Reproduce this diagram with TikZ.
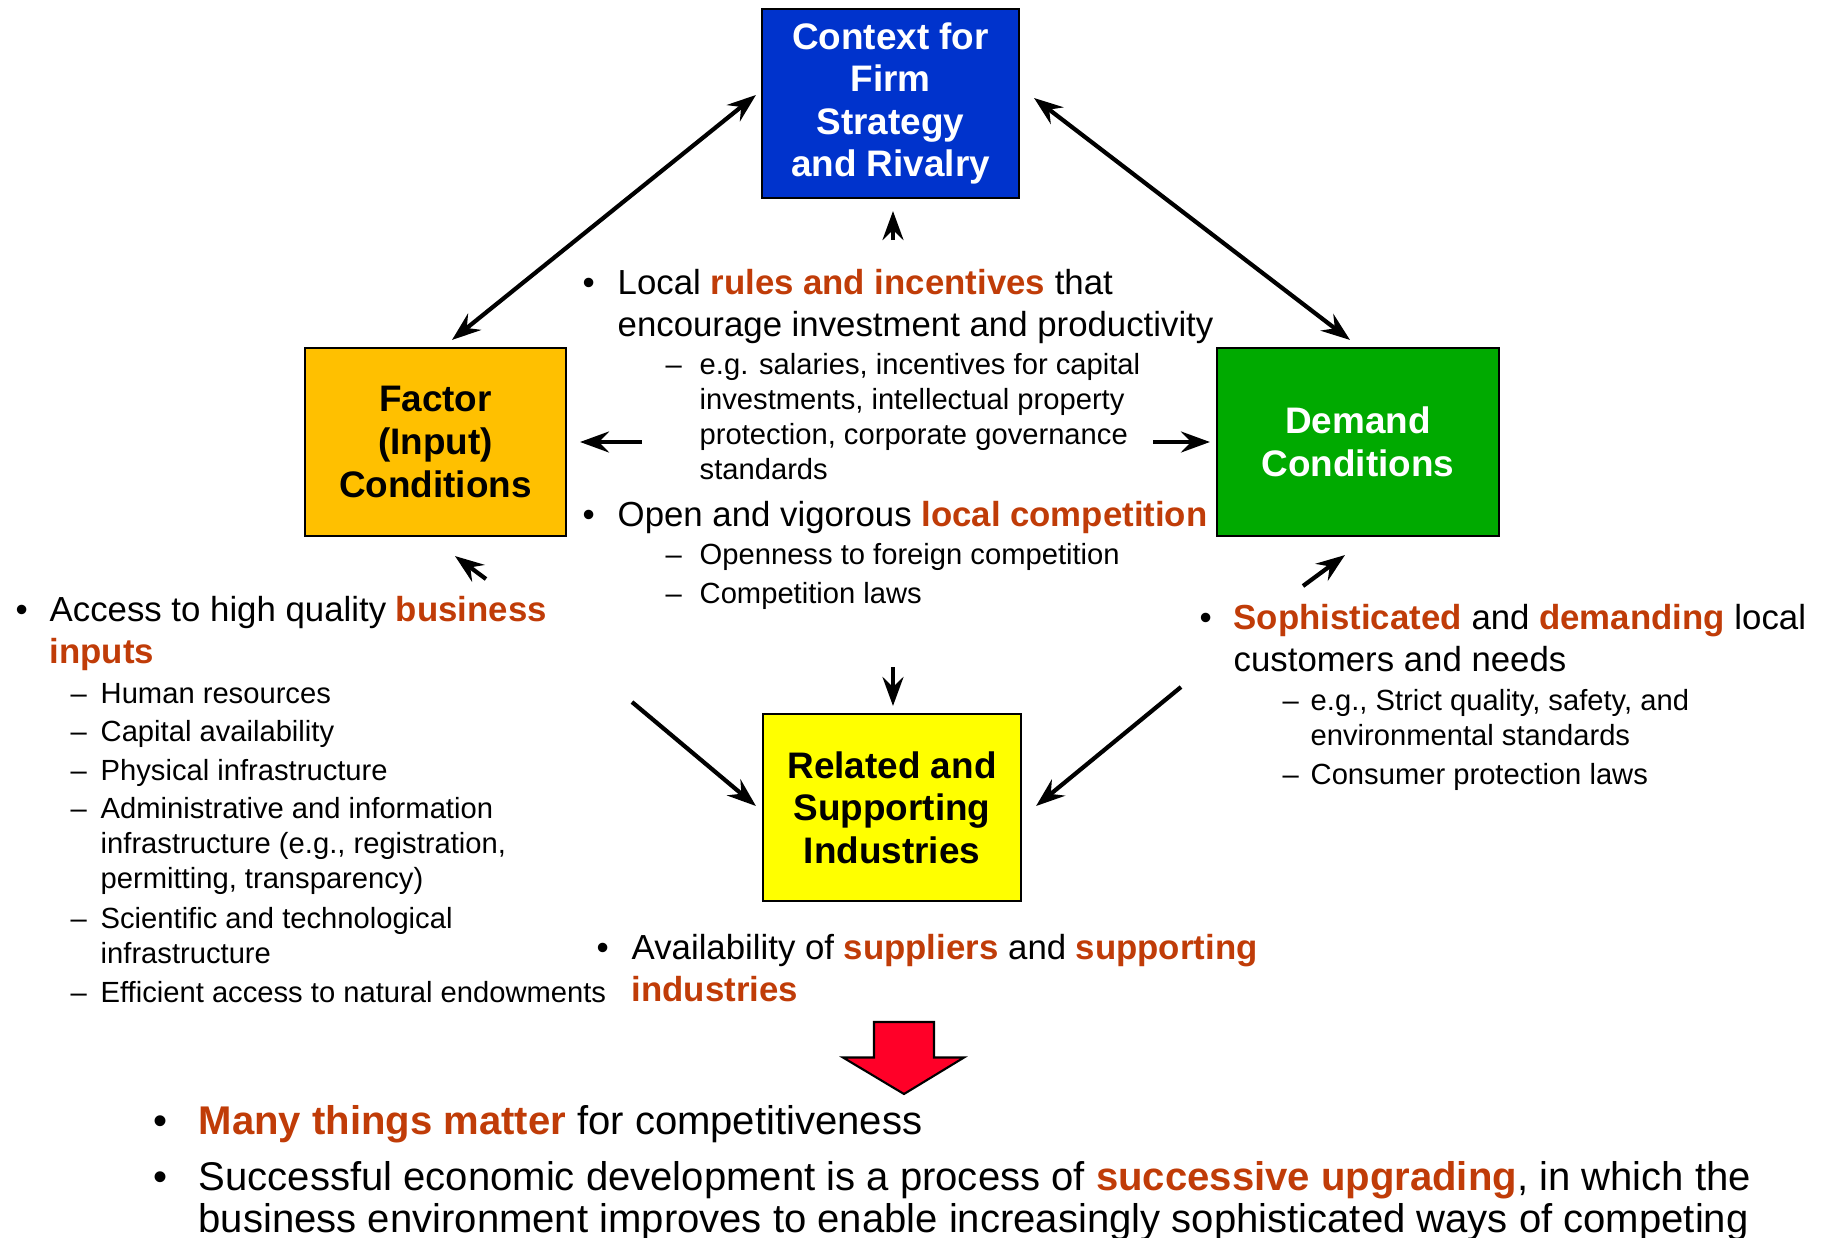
\documentclass[tikz,border=0pt]{standalone}
\usepackage{fontspec}
\setmainfont{Liberation Sans}
\usepackage{xcolor}
\usetikzlibrary{arrows.meta,positioning}

\definecolor{ctxblue}{RGB}{0,51,204}
\definecolor{facorange}{RGB}{255,192,0}
\definecolor{demgreen}{RGB}{0,170,0}
\definecolor{relyellow}{RGB}{255,255,0}
\definecolor{keyred}{RGB}{192,60,8}
\definecolor{bigred}{RGB}{255,0,40}

\newcommand{\hl}[1]{\textcolor{keyred}{\textbf{#1}}}

\begin{document}
\begin{tikzpicture}[
    >={Stealth[length=0.29cm,width=0.21cm,inset=0.1cm]},
    box/.style={rectangle,draw=black,line width=0.6pt,inner sep=0pt,align=center,
      font=\bfseries\fontsize{10.5}{12.1}\selectfont},
    arr/.style={->,line width=1.2pt},
    dbl/.style={<->,line width=1.2pt},
    main/.style={anchor=base west,inner sep=0pt,align=left,font=\fontsize{9.9}{11.95}\selectfont},
    sub/.style={anchor=base west,inner sep=0pt,align=left,font=\fontsize{8.3}{9.95}\selectfont},
    big/.style={anchor=base west,inner sep=0pt,align=left,font=\fontsize{11.4}{11.95}\selectfont}
  ]
    \useasboundingbox (0,0) rectangle (18.26,-12.38);

    % The four boxes
    \node[box,fill=ctxblue,text=white,minimum width=2.57cm,minimum height=1.89cm] (ctx) at (8.905,-1.035) {Context for\\Firm\\Strategy\\and Rivalry};
    \node[box,fill=facorange,minimum width=2.61cm,minimum height=1.88cm] (fac) at (4.355,-4.42) {Factor\\(Input)\\Conditions};
    \node[box,fill=demgreen,text=white,minimum width=2.82cm,minimum height=1.88cm] (dem) at (13.58,-4.42) {Demand\\Conditions};
    \node[box,fill=relyellow,minimum width=2.58cm,minimum height=1.87cm] (rel) at (8.92,-8.075) {Related and\\Supporting\\Industries};

    % Double arrows to the context box
    \draw[dbl] ([xshift=-0.05cm,yshift=0.085cm]ctx.west) -- ([xshift=0.165cm,yshift=0.07cm]fac.north);
    \draw[dbl] ([xshift=0.14cm,yshift=0.055cm]ctx.east) -- ([xshift=-0.08cm,yshift=0.07cm]dem.north);

    % Short arrows
    \coordinate (upT) at (8.93,-2.40);
    \coordinate (lfT) at (6.42,-4.42);
    \coordinate (rtT) at (11.53,-4.42);
    \coordinate (fbT) at (4.86,-5.79);
    \coordinate (dbT) at (13.03,-5.86);
    \coordinate (rnT) at (8.93,-6.67);
    \coordinate (rwT) at (6.32,-7.02);
    \coordinate (reT) at (11.81,-6.87);
    \draw[arr] (upT) -- ([xshift=0.025cm,yshift=-0.12cm]ctx.south);
    \draw[arr] (lfT) -- ([xshift=0.13cm]fac.east);
    \draw[arr] (rtT) -- ([xshift=-0.06cm]dem.west);
    \draw[arr] (fbT) -- ([xshift=0.195cm,yshift=-0.19cm]fac.south);
    \draw[arr] (dbT) -- ([xshift=-0.13cm,yshift=-0.18cm]dem.south);
    \draw[arr] (rnT) -- ([xshift=0.01cm,yshift=0.07cm]rel.north);
    \draw[arr] (rwT) -- ([xshift=-0.06cm,yshift=0.015cm]rel.west);
    \draw[arr] (reT) -- ([xshift=0.14cm,yshift=0.015cm]rel.east);

    % Rivalry text (multi-line nodes sit on their last line)
    \node[main] (cb1) at (5.82,-2.94) {\textbullet};
    \node[main] (ct1) at (6.17,-3.36) {Local \hl{rules and incentives} that\\encourage investment and productivity};
    \node[sub] (cd1) at (6.65,-3.74) {\textendash};
    \node[sub] (cs1) at (6.99,-4.79) {e.g. salaries, incentives for capital\\investments, intellectual property\\protection, corporate governance\\standards};
    \node[main] (cb2) at (5.82,-5.26) {\textbullet};
    \node[main] (ct2) at (6.17,-5.26) {Open and vigorous \hl{local competition}};
    \node[sub] (cd2) at (6.65,-5.64) {\textendash};
    \node[sub] (cs2) at (6.99,-5.64) {Openness to foreign competition};
    \node[sub] (cd3) at (6.65,-6.03) {\textendash};
    \node[sub] (cs3) at (6.99,-6.03) {Competition laws};

    % Factor text
    \node[main] (lb1) at (0.15,-6.21) {\textbullet};
    \node[main] (lt1) at (0.49,-6.63) {Access to high quality \hl{business}\\\hl{inputs}};
    \node[sub] (ld1) at (0.70,-7.03) {\textendash};
    \node[sub] (ls1) at (1.00,-7.03) {Human resources};
    \node[sub] (ld2) at (0.70,-7.41) {\textendash};
    \node[sub] (ls2) at (1.00,-7.41) {Capital availability};
    \node[sub] (ld3) at (0.70,-7.80) {\textendash};
    \node[sub] (ls3) at (1.00,-7.80) {Physical infrastructure};
    \node[sub] (ld4) at (0.70,-8.18) {\textendash};
    \node[sub] (ls4) at (1.00,-8.88) {Administrative and information\\infrastructure (e.g., registration,\\permitting, transparency)};
    \node[sub] (ld5) at (0.70,-9.28) {\textendash};
    \node[sub] (ls5) at (1.00,-9.63) {Scientific and technological\\infrastructure};
    \node[sub] (ld6) at (0.70,-10.02) {\textendash};
    \node[sub] (ls6) at (1.00,-10.02) {Efficient access to natural endowments};

    % Demand text
    \node[main] (rb1) at (11.99,-6.29) {\textbullet};
    \node[main] (rt1) at (12.33,-6.71) {\hl{Sophisticated} and \hl{demanding} local\\customers and needs};
    \node[sub] (rd1) at (12.82,-7.10) {\textendash};
    \node[sub] (rs1) at (13.10,-7.45) {e.g., Strict quality, safety, and\\environmental standards};
    \node[sub] (rd2) at (12.82,-7.84) {\textendash};
    \node[sub] (rs2) at (13.10,-7.84) {Consumer protection laws};

    % Related text
    \node[main] (bb1) at (5.96,-9.59) {\textbullet};
    \node[main] (bt1) at (6.31,-10.01) {Availability of \hl{suppliers} and \hl{supporting}\\\hl{industries}};

    % Conclusion
    \draw[fill=bigred,line width=0.6pt] (8.74,-10.22) -- (9.34,-10.22) -- (9.34,-10.575) -- (9.64,-10.575)
      -- (9.04,-10.94) -- (8.43,-10.575) -- (8.74,-10.575) -- cycle;
    \node[big] (fb1) at (1.53,-11.34) {\textbullet};
    \node[big] (ft1) at (1.98,-11.34) {\hl{Many things matter} for competitiveness};
    \node[big] (fb2) at (1.53,-11.90) {\textbullet};
    \node[big] (ft2) at (1.98,-12.32) {Successful economic development is a process of \hl{successive upgrading}, in which the\\business environment improves to enable increasingly sophisticated ways of competing};
\end{tikzpicture}
\end{document}
